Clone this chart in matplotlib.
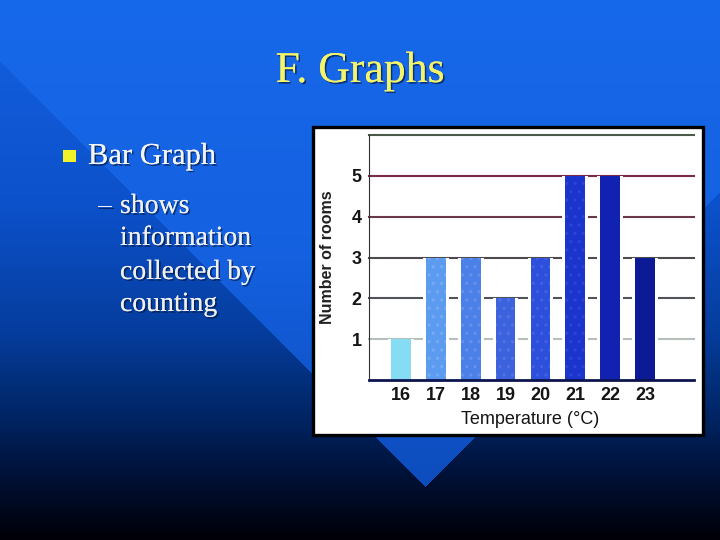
import numpy as np
import matplotlib
matplotlib.use("Agg")
from matplotlib import pyplot as plt
from matplotlib.patches import Rectangle
import matplotlib.patheffects as pe

# data
temps = [16, 17, 18, 19, 20, 21, 22, 23]
rooms = [1, 3, 3, 2, 3, 5, 5, 3]
bar_colors = ["#86dcf2", "#5c9cf0", "#4a80e8", "#3c62de", "#2c50dc",
              "#1a34cc", "#1222b0", "#0c1a96"]
dot_colors = ["#86dcf2", "#74aaf2", "#6490ec", "#5272e4", "#425ee2",
              "#2c44d4", "#1222b0", "#0c1a96"]
y_ticks = [1, 2, 3, 4, 5]
grid_levels = [1, 2, 3, 4, 5, 6]
grid_colors = ["#b4c0b8", "#505458", "#4e4a50", "#6a3848", "#7a2c44", "#4c5a4c"]

title = "F. Graphs"
bullet = "Bar Graph"
sub_lines = ["shows", "information", "collected by", "counting"]

W, H = 720, 540
fig = plt.figure(figsize=(7.2, 5.4), dpi=100)

# slide background: vertical blue gradient + lighter wedge pointing down
yy, xx = np.mgrid[0:H, 0:W]
ys = np.array([0, 200, 330, 420, 480, 540])
out_stops = np.array([[0.08, 0.38, 0.88], [0.05, 0.32, 0.80], [0.02, 0.24, 0.62],
                      [0.0, 0.14, 0.38], [0.0, 0.06, 0.20], [0.0, 0.0, 0.02]])
in_ys = np.array([0, 250, 487, 540])
in_stops = np.array([[0.09, 0.41, 0.92], [0.08, 0.38, 0.88], [0.05, 0.30, 0.74],
                     [0.05, 0.30, 0.74]])
col = np.arange(H)
out_c = np.stack([np.interp(col, ys, out_stops[:, k]) for k in range(3)], axis=1)
in_c = np.stack([np.interp(col, in_ys, in_stops[:, k]) for k in range(3)], axis=1)
inside = yy < (487 - np.abs(xx - 425))
bg = np.where(inside[..., None], in_c[:, None, :], out_c[:, None, :])

bg_ax = fig.add_axes([0, 0, 1, 1])
bg_ax.set_zorder(-10)
bg_ax.imshow(bg, aspect="auto", extent=[0, W, H, 0])
bg_ax.set_xlim(0, W)
bg_ax.set_ylim(H, 0)
bg_ax.axis("off")

# slide text
shadow = [pe.withSimplePatchShadow(offset=(1.2, -1.2), shadow_rgbFace="#00102a", alpha=0.6),
          pe.Normal()]
fig.text(360 / W, 1 - 82 / H, title, ha="center", va="baseline",
         family="Liberation Serif", fontsize=31.5, color="#f4f46a", path_effects=shadow)
fig.patches.append(Rectangle((62.5 / W, 1 - 162 / H), 13 / W, 12.5 / H,
                             transform=fig.transFigure, facecolor="#f2f22a",
                             edgecolor="none"))
fig.text(88 / W, 1 - 164 / H, bullet, ha="left", va="baseline",
         family="Liberation Serif", fontsize=22, color="#f4f4f4", path_effects=shadow)
fig.text(98 / W, 1 - 213 / H, "\u2013", ha="left", va="baseline",
         family="Liberation Serif", fontsize=20, color="#f0f0f0", path_effects=shadow)
baselines = [213, 245, 279, 311]
for line, b in zip(sub_lines, baselines):
    fig.text(120 / W, 1 - b / H, line, ha="left", va="baseline",
             family="Liberation Serif", fontsize=20, color="#f0f0f0", path_effects=shadow)

# the pasted chart picture: white box with black frame
box = Rectangle((313 / W, 1 - 435 / H), 390 / W, 308 / H,
                transform=fig.transFigure, facecolor="white",
                edgecolor="black", linewidth=2.4, zorder=1)
fig.patches.append(box)

ax = fig.add_axes([368.7 / W, 1 - 380 / H, 325 / W, 245 / H])
ax.set_zorder(5)
ax.set_facecolor("none")
ax.set_xlim(15.08, 24.39)
ax.set_ylim(0, 6)

for lvl, c in zip(grid_levels, grid_colors):
    ax.axhline(lvl, color=c, linewidth=1.5, zorder=1, clip_on=False)

# white halo behind bars so grid lines stop short of them
ax.bar(temps, rooms, width=0.74, color="white", linewidth=0, zorder=2)
plt.rcParams["hatch.linewidth"] = 1.2
bars = ax.bar(temps, rooms, width=0.57, color=bar_colors, linewidth=0, zorder=3)
for b, dc in zip(bars, dot_colors):
    b.set_edgecolor(dc)
    b.set_hatch("..")

tick_font = dict(family="Liberation Sans", fontweight="bold",
                 fontsize=13, color="#151515")
ax.set_xticks(temps)
ax.set_xticklabels([str(t) for t in temps], **tick_font)
ax.set_yticks(y_ticks)
ax.set_yticklabels([str(v) for v in y_ticks], **tick_font)
ax.tick_params(length=0)
ax.tick_params(axis="x", pad=5)
ax.tick_params(axis="y", pad=5)

ax.set_ylabel("Number of rooms", family="Liberation Sans", fontweight="bold",
              fontsize=11.5, color="#202020")
ax.yaxis.set_label_coords(-0.105, 0.5)
ax.set_xlabel("Temperature (\u00b0C)", family="Liberation Sans",
              fontsize=13, color="#151515")
ax.xaxis.set_label_coords(0.497, -0.125)

for s in ["top", "right"]:
    ax.spines[s].set_visible(False)
ax.spines["left"].set_color("#303030")
ax.spines["left"].set_linewidth(0.8)
ax.spines["bottom"].set_color("#0c1450")
ax.spines["bottom"].set_linewidth(2)
ax.spines["bottom"].set_zorder(4)

fig.savefig("out.png", dpi=100)
